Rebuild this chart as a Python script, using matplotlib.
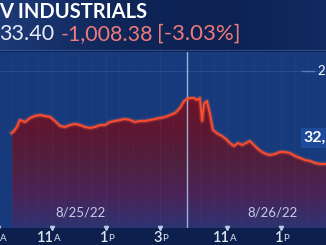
import numpy as np
import matplotlib.pyplot as plt
import matplotlib.transforms as mtransforms
from matplotlib.colors import LinearSegmentedColormap
from matplotlib.patches import Polygon

# horas de negociacion desde la apertura del 25/8 (9:30 = 0; 16:00 = 6.5 = apertura del 26/8)
v_t = [0.0, 0.09, 0.2, 0.31, 0.5, 0.69, 0.87, 1.06, 1.24, 1.43, 1.61, 1.8, 1.98,
       2.17, 2.35, 2.54, 2.72, 2.91, 3.09, 3.28, 3.46, 3.65, 3.83, 4.02, 4.2,
       4.39, 4.57, 4.76, 4.94, 5.13, 5.31, 5.5, 5.69, 5.87, 6.06, 6.24, 6.39, 6.5,
       6.61, 6.76, 6.87, 6.98, 7.06, 7.13, 7.24, 7.35, 7.46, 7.65, 7.8, 7.94,
       8.09, 8.24, 8.39, 8.54, 8.69, 8.83, 8.98, 9.13, 9.28, 9.43, 9.57, 9.76,
       9.94, 10.13, 10.31, 10.5, 10.69, 10.87, 11.06, 11.24, 11.43, 11.65, 11.8]
v_dow = [32960, 32984, 33032, 33116, 33092, 33140, 33164, 33176, 33164, 33152, 33104,
         33044, 33032, 33056, 33068, 33056, 33032, 33020, 33032, 33056, 33056, 33092,
         33104, 33116, 33128, 33116, 33092, 33104, 33104, 33116, 33128, 33140, 33152,
         33176, 33200, 33260, 33344, 33368,
         33380, 33380, 33356, 33380, 33104, 33308, 33344, 33188, 32996, 32948, 32924,
         32888, 32840, 32804, 32840, 32816, 32840, 32864, 32816, 32768, 32732, 32708,
         32696, 32708, 32732, 32732, 32720, 32684, 32660, 32636, 32624, 32600, 32588,
         32588, 32576]

tick_pos = [-0.5, 1.5, 3.5, 5.5, 8.0, 10.0]
tick_num = ['9', '11', '1', '3', '11', '1']
tick_suf = ['A', 'A', 'P', 'P', 'A', 'P']
date_pos = [2.55, 9.65]
date_lbl = ['8/25/22', '8/26/22']
s_cierre = 6.5      # separacion entre dias
s_grid = 33700
s_ultimo = '32,'

fig = plt.figure(figsize=(3.26, 2.45), dpi=100)
fig.patch.set_facecolor('#0d1f4c')

# fondo y cabecera (coordenadas en pixeles)
ax_bg = fig.add_axes([0, 0, 1, 1])
ax_bg.set_xlim(0, 326)
ax_bg.set_ylim(245, 0)
ax_bg.axis('off')
cab = LinearSegmentedColormap.from_list('cab', ['#1d3a78', '#10275a', '#0d2152', '#112a60'])
ax_bg.imshow(np.linspace(0, 1, 256)[None, :], cmap=cab, aspect='auto', extent=(0, 326, 51, 0))
ax_bg.plot([0, 326], [50.5, 50.5], color='#3a5fa8', lw=0.8, alpha=0.7)

ax_bg.text(-1, 12, 'V INDUSTRIALS', color='white', fontsize=14.5, fontweight='bold',
           family='Lato', va='center', ha='left')
ax_bg.text(-1, 34, '33.40', color='#e8ecf5', fontsize=15.5, family='Lato', va='center')
ax_bg.text(61, 34, '-1,008.38', color='#f07a7a', fontsize=15.5, family='Lato', va='center')
ax_bg.text(157, 34, '[-3.03%]', color='#f07a7a', fontsize=16, family='Lato', va='center')

# grafica principal
ax = fig.add_axes([0, 17 / 245, 1, 176 / 245])
ax.set_xlim(-0.426, 11.65)
ax.set_ylim(31820, 33932)
ax.set_facecolor('#163a7c')
for s in ax.spines.values():
    s.set_visible(False)
ax.set_xticks([])
ax.set_yticks([])

ax.axhline(s_grid, color='#3b5d9e', lw=0.6, alpha=0.6)

# area con degradado
fondo = LinearSegmentedColormap.from_list('area', ['#2d3372', '#4a2458', '#50203f', '#5e1732', '#6d1529'])
pts = list(zip(v_t, v_dow)) + [(v_t[-1], 31820), (v_t[0], 31820)]
poly = Polygon(pts, closed=True, facecolor='none', edgecolor='none')
ax.add_patch(poly)
im = ax.imshow(np.linspace(0, 1, 256)[:, None], cmap=fondo, aspect='auto',
               extent=(v_t[0], v_t[-1], 31820, 33400), origin='lower', zorder=1)
im.set_clip_path(poly)

for p in tick_pos + [0.5 * k for k in range(0, 24)]:
    ax.axvline(p, color='#7a5a9a', lw=0.4, alpha=0.15, zorder=2)

ax.axvline(s_cierre, color='#a9bfe6', lw=1.0, alpha=0.9, zorder=4)

ax.plot(v_t, v_dow, color='#ff6a45', lw=3.4, alpha=0.25, zorder=5)
ax.plot(v_t, v_dow, color='#ff4c2c', lw=1.4, zorder=6)

# etiquetas de la derecha
trans_r = mtransforms.blended_transform_factory(ax.transAxes, ax.transData)
ax.plot([0.927, 0.963], [s_grid, s_grid], color='#5a7ac0', lw=1.0, transform=trans_r)
ax.text(0.975, s_grid, '2', color='white', fontsize=9.5, family='Lato', va='center', transform=trans_r)
ax.text(0.932, 32900, s_ultimo, color='white', fontsize=11.5, fontweight='bold', family='Lato',
        va='center', ha='left', transform=trans_r,
        bbox=dict(boxstyle='square,pad=0.2', fc='#1f4a9a', ec='none'))

# eje x
trans_x = mtransforms.blended_transform_factory(ax.transData, ax.transAxes)
ax.plot(tick_pos, [0] * len(tick_pos), 'v', ms=3, color='#b8c8e8', transform=trans_x, clip_on=False, zorder=7)
for p, n, s in zip(tick_pos, tick_num, tick_suf):
    ax.annotate(n, (p, 0), xytext=(1.5, -7), textcoords='offset points', xycoords=trans_x,
                ha='right', va='center', color='#dfe5f2', fontsize=10.5, fontweight='semibold',
                family='Lato', annotation_clip=False)
    ax.annotate(s, (p, 0), xytext=(1.5, -7.7), textcoords='offset points', xycoords=trans_x,
                ha='left', va='center', color='#dfe5f2', fontsize=7, family='Lato', annotation_clip=False)
for p, d in zip(date_pos, date_lbl):
    ax.text(p, 0.088, d, transform=trans_x, ha='center', va='center', color='#c3cce4',
            fontsize=9.5, family='Lato', zorder=7)

plt.savefig('out.png', dpi=100, facecolor=fig.get_facecolor())
